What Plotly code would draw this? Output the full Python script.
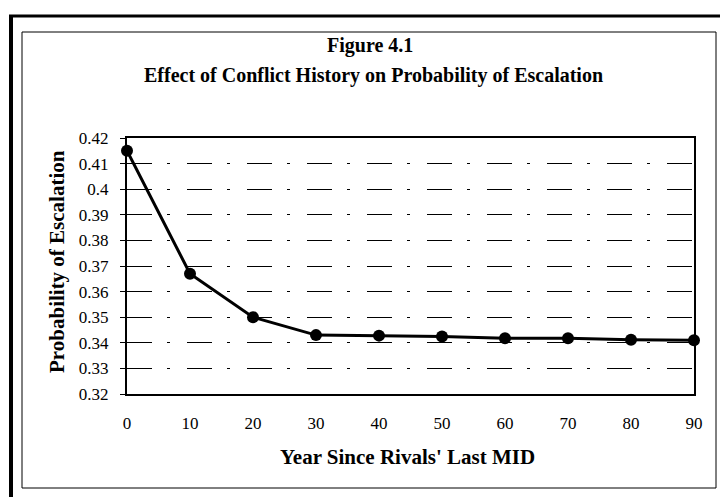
import plotly.graph_objects as go

years = [0, 10, 20, 30, 40, 50, 60, 70, 80, 90]
prob = [0.415, 0.367, 0.350, 0.343, 0.3428, 0.3425, 0.3418, 0.3418, 0.3412, 0.341]
y_ticks = [0.32, 0.33, 0.34, 0.35, 0.36, 0.37, 0.38, 0.39, 0.40, 0.41, 0.42]
y_tick_labels = ["0.32", "0.33", "0.34", "0.35", "0.36", "0.37", "0.38", "0.39", "0.4", "0.41", "0.42"]
x_ticks = [0, 10, 20, 30, 40, 50, 60, 70, 80, 90]

W, H = 726, 497
L, R, T, B = 127, 694, 138, 394


def px(x):
    return (x - L) / (R - L)


def py(y):
    return (B - y) / (B - T)


FONT = "Liberation Serif, Times New Roman, serif"

fig = go.Figure()
fig.add_trace(go.Scatter(
    x=years, y=prob, mode="lines+markers",
    line=dict(color="black", width=3),
    marker=dict(color="black", size=12, symbol="circle"),
    cliponaxis=False, showlegend=False,
))

fig.update_layout(
    width=W, height=H,
    margin=dict(l=L, r=W - R, t=T, b=H - B),
    paper_bgcolor="white", plot_bgcolor="white",
    font=dict(family=FONT, color="black"),
    xaxis=dict(
        range=[0, 90], tickvals=x_ticks, ticktext=[str(v) for v in x_ticks],
        showgrid=False, zeroline=False,
        showline=True, linecolor="black", linewidth=2, mirror=True,
        ticks="", ticklabelstandoff=13,
        tickfont=dict(size=17, family=FONT, color="black"),
    ),
    yaxis=dict(
        range=[0.32, 0.42], tickvals=y_ticks, ticktext=y_tick_labels,
        showgrid=True, gridcolor="black", gridwidth=1,
        griddash="25px,15px,3px,17px",
        zeroline=False,
        showline=True, linecolor="black", linewidth=2, mirror=True,
        ticks="outside", ticklen=5, tickcolor="black", ticklabelstandoff=8,
        tickfont=dict(size=17, family=FONT, color="black"),
    ),
    annotations=[
        dict(text="<b>Figure 4.1</b>", x=px(370), y=py(45), xref="paper", yref="paper",
             xanchor="center", yanchor="middle", showarrow=False,
             font=dict(size=20, family=FONT, color="black")),
        dict(text="<b>Effect of Conflict History on Probability of Escalation</b>",
             x=px(373), y=py(75), xref="paper", yref="paper",
             xanchor="center", yanchor="middle", showarrow=False,
             font=dict(size=20, family=FONT, color="black")),
        dict(text="<b>Year Since Rivals' Last MID</b>", x=px(407), y=py(457),
             xref="paper", yref="paper", xanchor="center", yanchor="middle",
             showarrow=False, font=dict(size=21, family=FONT, color="black")),
        dict(text="<b>Probability of Escalation</b>", x=px(57), y=py(262),
             xref="paper", yref="paper", xanchor="center", yanchor="middle",
             textangle=-90, showarrow=False,
             font=dict(size=21, family=FONT, color="black")),
    ],
    shapes=[
        dict(type="rect", xref="paper", yref="paper",
             x0=px(22), x1=px(716), y0=py(32), y1=py(488),
             line=dict(color="black", width=1)),
        dict(type="line", xref="paper", yref="paper",
             x0=px(11), x1=px(11), y0=py(16), y1=py(497),
             line=dict(color="black", width=4)),
        dict(type="line", xref="paper", yref="paper",
             x0=px(9), x1=px(720), y0=py(16), y1=py(16),
             line=dict(color="black", width=3)),
    ],
)

fig.write_html("out.html", config={"displayModeBar": False},
               post_script="document.body.style.margin='0';")
